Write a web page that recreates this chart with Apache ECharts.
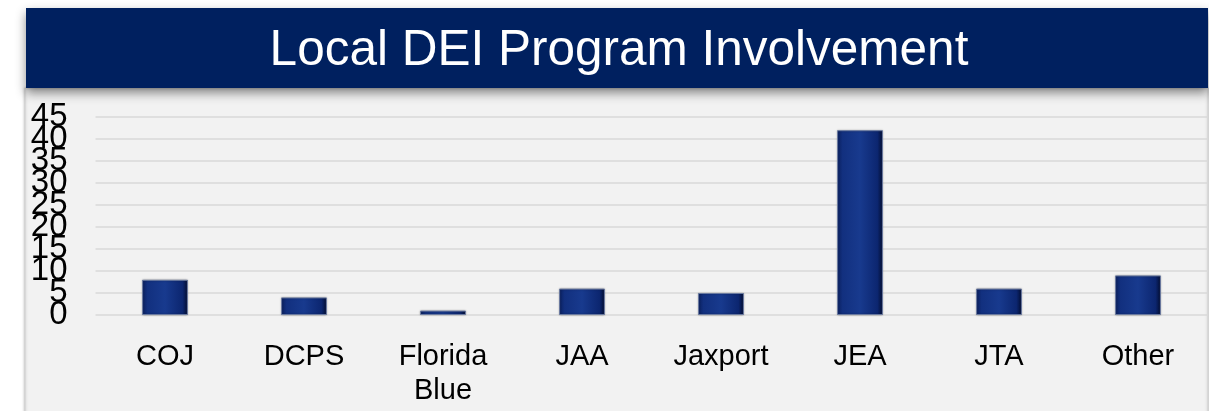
<!DOCTYPE html>
<html>
<head>
<meta charset="utf-8">
<script src="https://cdn.jsdelivr.net/npm/echarts@6/dist/echarts.min.js"></script>
<style>
html,body{margin:0;padding:0;background:#fff;}
#chart{width:1209px;height:411px;}
</style>
</head>
<body>
<div id="chart"></div>
<script>
const titleText = 'Local DEI Program Involvement';
const categories = ['COJ', 'DCPS', 'Florida Blue', 'JAA', 'Jaxport', 'JEA', 'JTA', 'Other'];
const values = [8, 4, 1, 6, 5, 42, 6, 9];
const yTicks = [0, 5, 10, 15, 20, 25, 30, 35, 40, 45];
const yMin = yTicks[0];
const yMax = yTicks[yTicks.length - 1];

const chart = echarts.init(document.getElementById('chart'), null, {renderer: 'canvas'});
const barColor = new echarts.graphic.LinearGradient(0, 0, 1, 0, [
  {offset: 0, color: '#0a1f5e'},
  {offset: 0.12, color: '#12307f'},
  {offset: 0.5, color: '#183a8e'},
  {offset: 0.88, color: '#0c2670'},
  {offset: 1, color: '#020c30'}
]);
const yLabel = {margin: 28, color: '#000', fontSize: 33,
  fontFamily: 'Liberation Sans, Arial, sans-serif'};
chart.setOption({
  backgroundColor: '#ffffff',
  animation: false,
  graphic: [
    {type: 'rect', z: -10, silent: true,
     shape: {x: 25, y: 88, width: 1183, height: 330},
     style: {fill: '#f2f2f2', stroke: '#d0d0d0', lineWidth: 1, shadowBlur: 3, shadowColor: 'rgba(0,0,0,0.25)'}},
    {type: 'rect', z: -5, silent: true,
     shape: {x: 26, y: 8, width: 1182, height: 80},
     style: {fill: '#00205f', shadowBlur: 10, shadowOffsetY: 5, shadowColor: 'rgba(0,0,0,0.45)'}}
  ],
  title: {
    text: titleText,
    left: 614, top: 21, textAlign: 'center',
    textStyle: {color: '#ffffff', fontSize: 49.5, fontWeight: 'normal', fontFamily: 'Liberation Sans, Arial, sans-serif'}
  },
  grid: {left: 95.5, right: 1.5, top: 117, bottom: 96, containLabel: false},
  xAxis: {
    type: 'category',
    data: categories,
    axisLine: {show: false},
    axisTick: {show: false},
    axisLabel: {
      interval: 0, margin: 25, color: '#000', fontSize: 29, lineHeight: 34,
      fontFamily: 'Liberation Sans, Arial, sans-serif',
      formatter: v => v.replace(' ', '\n')
    }
  },
  yAxis: [{
    type: 'value', min: yMin, max: yMax, interval: 5, position: 'left',
    axisLine: {show: false}, axisTick: {show: false},
    splitLine: {lineStyle: {color: '#d9d9d9', width: 1.5}},
    axisLabel: Object.assign({showMinLabel: false, showMaxLabel: false}, yLabel)
  }, {
    type: 'value', min: yMin, max: yMax, interval: yMax - yMin, position: 'left', offset: 0,
    axisLine: {show: false}, axisTick: {show: false}, splitLine: {show: false},
    axisLabel: Object.assign({showMinLabel: true, showMaxLabel: true}, yLabel)
  }],
  series: [{
    type: 'bar',
    yAxisIndex: 0,
    data: values,
    barWidth: '33%',
    itemStyle: {color: barColor, borderColor: '#6a7aa0', borderWidth: 1,
      shadowBlur: 2, shadowColor: 'rgba(0,0,0,0.3)'}
  }]
});
</script>
</body>
</html>
